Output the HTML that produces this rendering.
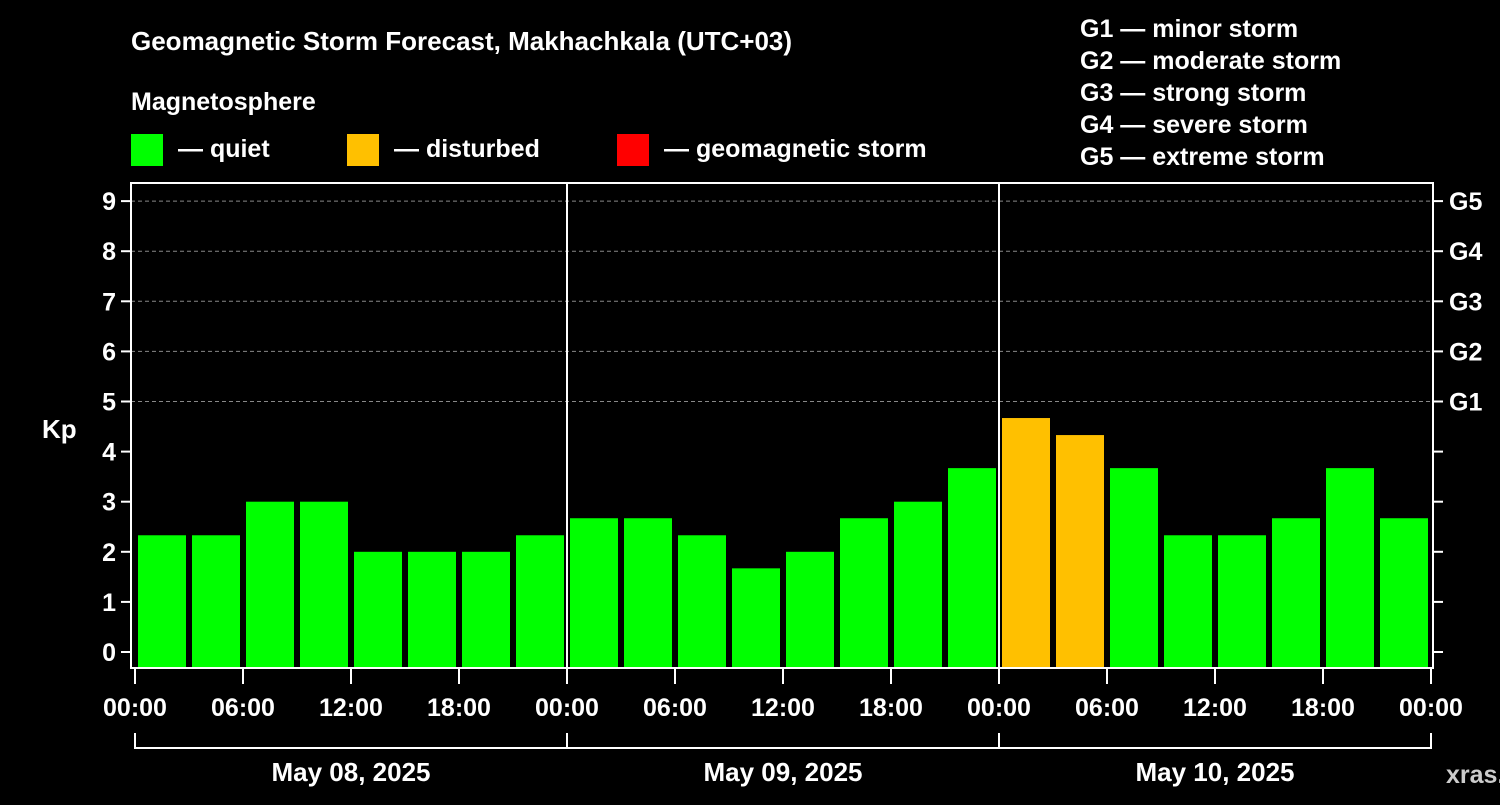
<!DOCTYPE html>
<html><head><meta charset="utf-8"><style>
body{margin:0;background:#000;width:1500px;height:800px;overflow:hidden}
svg text{font-family:"Liberation Sans",sans-serif;font-weight:bold;fill:#fff}
</style></head><body>
<svg id="c" width="1500" height="800" xmlns="http://www.w3.org/2000/svg">
<rect width="1500" height="800" fill="#000"/>
<text x="131" y="50" font-size="26">Geomagnetic Storm Forecast, Makhachkala (UTC+03)</text>
<text x="131" y="110" font-size="25">Magnetosphere</text>
<g><rect x="131" y="134" width="32" height="32" fill="#00ff00"/><text x="178" y="157" font-size="25">— quiet</text></g>
<g><rect x="347" y="134" width="32" height="32" fill="#ffc000"/><text x="394" y="157" font-size="25">— disturbed</text></g>
<g><rect x="617" y="134" width="32" height="32" fill="#ff0000"/><text x="664" y="157" font-size="25">— geomagnetic storm</text></g>
<g font-size="25">
<text x="1080" y="37">G1 — minor storm</text><text x="1080" y="69">G2 — moderate storm</text><text x="1080" y="101">G3 — strong storm</text><text x="1080" y="133">G4 — severe storm</text><text x="1080" y="165">G5 — extreme storm</text>
</g>
<text x="42" y="438" font-size="26">Kp</text>
<text x="1446" y="783" font-size="25" fill="#ccc" style="fill:#ccc">xras.ru</text>
<g id="plot"></g>
</svg>
<script>
const values=[2.33,2.33,3,3,2,2,2,2.33, 2.67,2.67,2.33,1.67,2,2.67,3,3.67, 4.67,4.33,3.67,2.33,2.33,2.67,3.67,2.67];
const statuses=['q','q','q','q','q','q','q','q','q','q','q','q','q','q','q','q','d','d','q','q','q','q','q','q'];
const yTicks=[0,1,2,3,4,5,6,7,8,9];
const gLabels=['G1','G2','G3','G4','G5'];
const gLevels=[5,6,7,8,9];
const timeLabels=['00:00','06:00','12:00','18:00','00:00','06:00','12:00','18:00','00:00','06:00','12:00','18:00','00:00'];
const dayLabels=['May 08, 2025','May 09, 2025','May 10, 2025'];
const NS='http://www.w3.org/2000/svg';
const g=document.getElementById('plot');
const X0=135,DAY=432,L=131,R=1433,TOP=183,BOT=668;
const y=v=>652-50.1*v;
const xh=h=>X0+h*DAY/24;
function mk(t,a,txt){const e=document.createElementNS(NS,t);for(const k in a)e.setAttribute(k,a[k]);if(txt!==undefined)e.textContent=txt;g.appendChild(e);return e;}
gLevels.forEach(v=>{
const e=mk('line',{x1:L,x2:R,y1:y(v),y2:y(v),stroke:'#888','stroke-dasharray':'4,3','stroke-width':1});


});
values.forEach((v,i)=>{
const x=xh(i*3)+3;
const e=mk('rect',{x:x,y:y(v),width:48,height:BOT-y(v),fill:statuses[i]==='d'?'#ffc000':(v>=5?'#ff0000':'#00ff00')});


});
mk('rect',{x:L,y:TOP,width:R-L,height:BOT-TOP,fill:'none',stroke:'#fff','stroke-width':2});
[1,2].forEach(d=>{const e=mk('line',{x1:X0+d*DAY,x2:X0+d*DAY,y1:TOP,y2:BOT,stroke:'#fff','stroke-width':2});

});
yTicks.forEach(v=>{
mk('line',{x1:L-10,x2:L,y1:y(v),y2:y(v),stroke:'#fff','stroke-width':2});
mk('line',{x1:R,x2:R+10,y1:y(v),y2:y(v),stroke:'#fff','stroke-width':2});
const t=mk('text',{x:L-15,y:y(v)+9,'font-size':25,'text-anchor':'end'},v);


});
gLabels.forEach((s,i)=>{const t=mk('text',{x:1449,y:y(gLevels[i])+9,'font-size':25},s);

});
timeLabels.forEach((s,i)=>{const x=xh(i*6);
mk('line',{x1:x,x2:x,y1:BOT,y2:684,stroke:'#fff','stroke-width':2});
const t=mk('text',{x:x,y:716,'font-size':25,'text-anchor':'middle'},s);

});
mk('path',{d:`M${X0} 733V748H${X0+3*DAY}V733M${X0+DAY} 733V748M${X0+2*DAY} 733V748`,stroke:'#fff','stroke-width':2,fill:'none'});
dayLabels.forEach((s,i)=>{const t=mk('text',{x:X0+DAY*(i+0.5),y:781,'font-size':26,'text-anchor':'middle'},s);

});
</script>
</body></html>
